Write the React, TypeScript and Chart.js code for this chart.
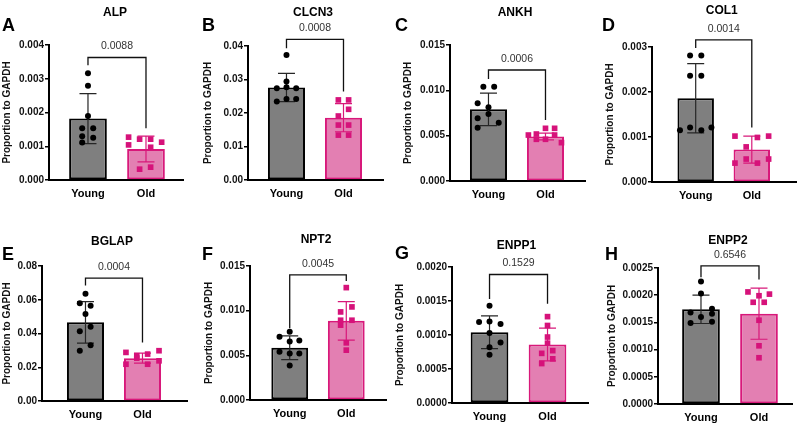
import React, { useEffect, useRef } from 'react';
import { Chart, registerables } from 'chart.js';

Chart.register(...registerables);
Chart.defaults.font.family = "'Liberation Sans', Arial, sans-serif";

// ---------- data ----------
const groups = ['Young', 'Old'];
const genes = ['ALP', 'CLCN3', 'ANKH', 'COL1', 'BGLAP', 'NPT2', 'ENPP1', 'ENPP2'];
const letters = ['A', 'B', 'C', 'D', 'E', 'F', 'G', 'H'];
const pValues = ['0.0088', '0.0008', '0.0006', '0.0014', '0.0004', '0.0045', '0.1529', '0.6546'];
const yTitle = 'Proportion to GAPDH';

// ALP
const alpYoung = [0.00316, 0.00279, 0.0019, 0.00153, 0.00153, 0.0013, 0.00125, 0.00111];
const alpYoungJitter = [0, 0, 0, -0.1, 0.09, -0.1, 0.09, -0.1];
const alpOld = [0.00127, 0.00121, 0.00121, 0.00112, 0.00104, 0.00097, 0.00032, 0.00038];
const alpOldJitter = [-0.3, -0.11, 0.08, 0.27, -0.3, 0.08, -0.11, 0.08];
const alpMean = [0.00182, 0.00092];
const alpSD = [0.00074, 0.00038];
const alpBracket = [0.00363, 0.0034, 0.00153];
const alpTicks = ['0.000', '0.001', '0.002', '0.003', '0.004'];

// CLCN3
const clcn3Young = [0.0373, 0.0294, 0.0274, 0.0277, 0.0274, 0.0234, 0.0242, 0.0242];
const clcn3YoungJitter = [0, 0, -0.17, 0, 0.17, -0.17, 0, 0.17];
const clcn3Old = [0.0239, 0.0239, 0.0211, 0.0191, 0.0164, 0.0164, 0.0134, 0.0134];
const clcn3OldJitter = [-0.09, 0.09, 0.09, -0.09, -0.09, 0.09, -0.09, 0.09];
const clcn3Mean = [0.0276, 0.0186];
const clcn3SD = [0.0042, 0.0042];
const clcn3Bracket = [0.042, 0.0393, 0.0264];
const clcn3Ticks = ['0.00', '0.01', '0.02', '0.03', '0.04'];

// ANKH
const ankhYoung = [0.0104, 0.0104, 0.00857, 0.00813, 0.0074, 0.00691, 0.00643, 0.00588];
const ankhYoungJitter = [-0.09, 0.1, -0.19, 0, 0, -0.19, 0.18, -0.19];
const ankhOld = [0.00581, 0.00581, 0.00518, 0.00507, 0.0046, 0.0046, 0.00507, 0.00423];
const ankhOldJitter = [0, 0.16, -0.16, -0.3, -0.16, 0, 0.16, 0.28];
const ankhMean = [0.0079, 0.0049];
const ankhSD = [0.0018, 0.00037];
const ankhBracket = [0.01224, 0.01125, 0.00673];
const ankhTicks = ['0.000', '0.005', '0.010', '0.015'];

// COL1
const col1Young = [0.00281, 0.00281, 0.00236, 0.00236, 0.00115, 0.00121, 0.00115, 0.00121];
const col1YoungJitter = [-0.1, 0.1, -0.1, 0.1, -0.28, -0.1, 0.1, 0.28];
const col1Old = [0.00102, 0.00099, 0.00102, 0.00042, 0.00051, 0.00042, 0.00051, 0.00078];
const col1OldJitter = [-0.3, 0.1, 0.3, -0.3, -0.1, 0.1, 0.3, -0.1];
const col1Mean = [0.00186, 0.00072];
const col1SD = [0.00077, 0.0003];
const col1Bracket = [0.00316, 0.00298, 0.00121];
const col1Ticks = ['0.000', '0.001', '0.002', '0.003'];

// BGLAP
const bglapYoung = [0.0635, 0.0579, 0.0565, 0.0516, 0.044, 0.0413, 0.0331, 0.0298];
const bglapYoungJitter = [0, -0.1, 0.09, 0, 0.09, -0.1, 0.09, -0.1];
const bglapOld = [0.0288, 0.0268, 0.0278, 0.0298, 0.0218, 0.0254, 0.0218, 0.0238];
const bglapOldJitter = [-0.29, -0.1, 0.09, 0.29, -0.29, -0.1, 0.09, 0.29];
const bglapMean = [0.0466, 0.0254];
const bglapSD = [0.0123, 0.003];
const bglapBracket = [0.0728, 0.0685, 0.0347];
const bglapTicks = ['0.00', '0.02', '0.04', '0.06', '0.08'];

// NPT2
const npt2Young = [0.00763, 0.00707, 0.00655, 0.00666, 0.0054, 0.00521, 0.00521, 0.00387];
const npt2YoungJitter = [0, -0.18, 0, 0.17, -0.18, 0, 0.17, 0];
const npt2Old = [0.01258, 0.01042, 0.00986, 0.00893, 0.00893, 0.00838, 0.0064, 0.00558];
const npt2OldJitter = [0, 0.1, -0.1, 0.1, -0.1, -0.1, 0, 0];
const npt2Mean = [0.00585, 0.00886];
const npt2SD = [0.00133, 0.00215];
const npt2Bracket = [0.014, 0.00804, 0.01332];
const npt2Ticks = ['0.000', '0.005', '0.010', '0.015'];

// ENPP1
const enpp1Young = [0.00143, 0.00119, 0.0012, 0.00116, 0.00103, 0.00089, 0.00082, 0.00071];
const enpp1YoungJitter = [0, -0.18, 0, 0.19, 0, 0.19, 0, 0];
const enpp1Old = [0.00127, 0.00114, 0.00097, 0.00088, 0.00073, 0.00077, 0.00065, 0.00058];
const enpp1OldJitter = [0, 0, 0, 0, -0.1, 0.09, 0.09, -0.1];
const enpp1Mean = [0.00104, 0.00086];
const enpp1SD = [0.00024, 0.00024];
const enpp1Bracket = [0.00189, 0.00153, 0.00146];
const enpp1Ticks = ['0.0000', '0.0005', '0.0010', '0.0015', '0.0020'];

// ENPP2
const enpp2Young = [0.00225, 0.00203, 0.00168, 0.00175, 0.0016, 0.00166, 0.00149, 0.00151];
const enpp2YoungJitter = [0, 0, -0.18, 0.19, 0, 0.19, -0.18, 0.19];
const enpp2Old = [0.00206, 0.00199, 0.00202, 0.00187, 0.00187, 0.00154, 0.00107, 0.00085];
const enpp2OldJitter = [-0.19, 0, 0.18, -0.1, 0.09, 0, 0, 0];
const enpp2Mean = [0.00174, 0.00166];
const enpp2SD = [0.00026, 0.00047];
const enpp2Bracket = [0.00254, 0.00233, 0.00229];
const enpp2Ticks = ['0.0000', '0.0005', '0.0010', '0.0015', '0.0020', '0.0025'];

const panels = [
  { young: alpYoung, yj: alpYoungJitter, old: alpOld, oj: alpOldJitter, mean: alpMean, sd: alpSD, bracket: alpBracket, ticks: alpTicks },
  { young: clcn3Young, yj: clcn3YoungJitter, old: clcn3Old, oj: clcn3OldJitter, mean: clcn3Mean, sd: clcn3SD, bracket: clcn3Bracket, ticks: clcn3Ticks },
  { young: ankhYoung, yj: ankhYoungJitter, old: ankhOld, oj: ankhOldJitter, mean: ankhMean, sd: ankhSD, bracket: ankhBracket, ticks: ankhTicks },
  { young: col1Young, yj: col1YoungJitter, old: col1Old, oj: col1OldJitter, mean: col1Mean, sd: col1SD, bracket: col1Bracket, ticks: col1Ticks },
  { young: bglapYoung, yj: bglapYoungJitter, old: bglapOld, oj: bglapOldJitter, mean: bglapMean, sd: bglapSD, bracket: bglapBracket, ticks: bglapTicks },
  { young: npt2Young, yj: npt2YoungJitter, old: npt2Old, oj: npt2OldJitter, mean: npt2Mean, sd: npt2SD, bracket: npt2Bracket, ticks: npt2Ticks },
  { young: enpp1Young, yj: enpp1YoungJitter, old: enpp1Old, oj: enpp1OldJitter, mean: enpp1Mean, sd: enpp1SD, bracket: enpp1Bracket, ticks: enpp1Ticks },
  { young: enpp2Young, yj: enpp2YoungJitter, old: enpp2Old, oj: enpp2OldJitter, mean: enpp2Mean, sd: enpp2SD, bracket: enpp2Bracket, ticks: enpp2Ticks },
];

// ---------- layout (pixels in page coordinates) ----------
const layouts = [
  { cx: 0, cy: 0, cw: 200, ch: 214, axisX: 49, top: 45, bottom: 180, right: 183, titleX: 7, xMin: -0.672, xMax: 1.638, geneY: 12.5, letterX: 2, letterY: 31 },
  { cx: 200, cy: 0, cw: 193, ch: 214, axisX: 248, top: 46, bottom: 180, right: 383, titleX: 208, xMin: -0.675, xMax: 1.693, geneY: 12.5, letterX: 2, letterY: 31 },
  { cx: 393, cy: 0, cw: 207, ch: 214, axisX: 450, top: 45, bottom: 181, right: 585, titleX: 408, xMin: -0.675, xMax: 1.693, geneY: 12.5, letterX: 2, letterY: 31 },
  { cx: 600, cy: 0, cw: 200, ch: 214, axisX: 652, top: 47, bottom: 182, right: 797, titleX: 610, xMin: -0.779, xMax: 1.788, geneY: 11, letterX: 2, letterY: 31 },
  { cx: 0, cy: 214, cw: 200, ch: 214, axisX: 42, top: 266, bottom: 401, right: 187, titleX: 7, xMin: -0.763, xMax: 1.781, geneY: 28, letterX: 2, letterY: 46 },
  { cx: 200, cy: 214, cw: 190, ch: 214, axisX: 250, top: 266, bottom: 400, right: 387, titleX: 209, xMin: -0.702, xMax: 1.702, geneY: 26, letterX: 2, letterY: 46 },
  { cx: 390, cy: 214, cw: 210, ch: 214, axisX: 452, top: 267, bottom: 403, right: 588, titleX: 400, xMin: -0.647, xMax: 1.698, geneY: 32, letterX: 5, letterY: 45 },
  { cx: 600, cy: 214, cw: 200, ch: 214, axisX: 658, top: 268, bottom: 404, right: 792, titleX: 612, xMin: -0.741, xMax: 1.569, geneY: 27, letterX: 5, letterY: 46 },
];

const GRAY = '#7f7f7f';
const PINK_FILL = '#e37fb2';
const PINK_LINE = '#d8187a';
const PINK_PT = '#d6127a';
const X_AXIS_H = 22;
const FONT = "'Liberation Sans', Arial, sans-serif";

function makeConfig(i: number): any {
  const d = panels[i];
  const L = layouts[i];
  const tickVals = d.ticks.map((t) => parseFloat(t));
  const padLeft = L.titleX - L.cx - 6;
  const yAxisW = L.axisX - L.cx - padLeft;
  const padTop = L.top - L.cy;
  const padRight = L.cx + L.cw - L.right;
  const padBottom = L.cy + L.ch - L.bottom - X_AXIS_H;

  const annotate = {
    id: 'annotate' + i,
    afterDatasetDraw(chart: any, args: any) {
      if (args.index !== 0) return;
      const ctx = chart.ctx;
      const xs = chart.scales.x;
      const ys = chart.scales.y;
      for (let g = 0; g < 2; g++) {
        const x = xs.getPixelForValue(g);
        const hi = ys.getPixelForValue(d.mean[g] + d.sd[g]);
        const lo = ys.getPixelForValue(d.mean[g] - d.sd[g]);
        ctx.save();
        ctx.strokeStyle = g === 0 ? '#262626' : PINK_LINE;
        ctx.lineWidth = 1.2;
        ctx.beginPath();
        ctx.moveTo(x, hi);
        ctx.lineTo(x, lo);
        ctx.moveTo(x - 8.5, hi);
        ctx.lineTo(x + 8.5, hi);
        ctx.moveTo(x - 8.5, lo);
        ctx.lineTo(x + 8.5, lo);
        ctx.stroke();
        ctx.restore();
      }
    },
    afterDraw(chart: any) {
      const ctx = chart.ctx;
      const xs = chart.scales.x;
      const ys = chart.scales.y;
      const x0 = xs.getPixelForValue(0);
      const x1 = xs.getPixelForValue(1);
      const yt = ys.getPixelForValue(d.bracket[0]);
      const yl = ys.getPixelForValue(d.bracket[1]);
      const yr = ys.getPixelForValue(d.bracket[2]);
      ctx.save();
      ctx.strokeStyle = '#111';
      ctx.lineWidth = 1.3;
      ctx.beginPath();
      ctx.moveTo(x0, yl);
      ctx.lineTo(x0, yt);
      ctx.lineTo(x1, yt);
      ctx.lineTo(x1, yr);
      ctx.stroke();
      ctx.fillStyle = '#333';
      ctx.font = `10.5px ${FONT}`;
      ctx.textAlign = 'center';
      ctx.textBaseline = 'middle';
      ctx.fillText(pValues[i], (x0 + x1) / 2, yt - 11);
      // gene title
      ctx.fillStyle = '#000';
      ctx.font = `bold 12px ${FONT}`;
      ctx.fillText(genes[i], xs.getPixelForValue(0.5) - 2, L.geneY);
      // panel letter
      ctx.font = `bold 18px ${FONT}`;
      ctx.textAlign = 'left';
      ctx.textBaseline = 'alphabetic';
      ctx.fillText(letters[i], L.letterX, L.letterY);
      ctx.restore();
    },
  };

  return {
    type: 'bar',
    data: {
      datasets: [
        {
          type: 'bar',
          data: [
            { x: 0, y: d.mean[0] },
            { x: 1, y: d.mean[1] },
          ],
          backgroundColor: [GRAY, PINK_FILL],
          borderColor: ['#000', PINK_LINE],
          borderWidth: 2,
          borderSkipped: false,
          barPercentage: 0.65,
          categoryPercentage: 1,
          order: 3,
        },
        {
          type: 'scatter',
          data: d.young.map((v, k) => ({ x: 0 + d.yj[k], y: v })),
          pointStyle: 'circle',
          pointRadius: 3,
          pointBackgroundColor: '#000',
          pointBorderWidth: 0,
          clip: false,
          order: 1,
        },
        {
          type: 'scatter',
          data: d.old.map((v, k) => ({ x: 1 + d.oj[k], y: v })),
          pointStyle: 'rect',
          pointRadius: 4,
          pointBackgroundColor: PINK_PT,
          pointBorderWidth: 0,
          clip: false,
          order: 1,
        },
      ],
    },
    options: {
      responsive: false,
      animation: false,
      devicePixelRatio: 1,
      events: [],
      layout: { padding: { left: padLeft, top: padTop, right: padRight, bottom: padBottom } },
      plugins: { legend: { display: false }, tooltip: { enabled: false }, title: { display: false } },
      scales: {
        x: {
          type: 'linear',
          min: L.xMin,
          max: L.xMax,
          offset: false,
          position: 'bottom',
          grid: { display: false, drawTicks: false },
          border: { display: true, color: '#000', width: 2 },
          ticks: {
            font: { size: 11, weight: 'bold' },
            color: '#000',
            padding: 7,
            maxRotation: 0,
            autoSkip: false,
            callback: (v: number) => groups[Math.round(v)],
          },
          afterBuildTicks: (s: any) => {
            s.ticks = [{ value: 0 }, { value: 1 }];
          },
          afterFit: (s: any) => {
            s.height = X_AXIS_H;
          },
        },
        y: {
          type: 'linear',
          min: 0,
          max: tickVals[tickVals.length - 1],
          position: 'left',
          grid: { display: true, drawOnChartArea: false, drawTicks: true, tickLength: 4, color: '#000', lineWidth: 1.5 },
          border: { display: true, color: '#000', width: 2 },
          ticks: {
            font: { size: 10, weight: 'bold' },
            color: '#111',
            padding: 1,
            autoSkip: false,
            callback: (_v: number, idx: number) => d.ticks[idx],
          },
          title: { display: true, text: yTitle, font: { size: 10, weight: 'bold' }, color: '#111', padding: 0 },
          afterBuildTicks: (s: any) => {
            s.ticks = tickVals.map((v) => ({ value: v }));
          },
          afterFit: (s: any) => {
            s.width = yAxisW;
          },
        },
      },
    },
    plugins: [annotate],
  };
}

function Panel({ idx }: { idx: number }) {
  const ref = useRef<HTMLCanvasElement>(null);
  const L = layouts[idx];
  useEffect(() => {
    if (!ref.current) return;
    const chart = new Chart(ref.current, makeConfig(idx));
    return () => chart.destroy();
  }, [idx]);
  return (
    <canvas
      ref={ref}
      width={L.cw}
      height={L.ch}
      style={{ position: 'absolute', left: L.cx, top: L.cy, width: L.cw, height: L.ch }}
    />
  );
}

export default function App() {
  return (
    <div style={{ position: 'fixed', left: 0, top: 0, width: 800, height: 428, background: '#fff', overflow: 'hidden' }}>
      {layouts.map((_, i) => (
        <Panel key={i} idx={i} />
      ))}
    </div>
  );
}
